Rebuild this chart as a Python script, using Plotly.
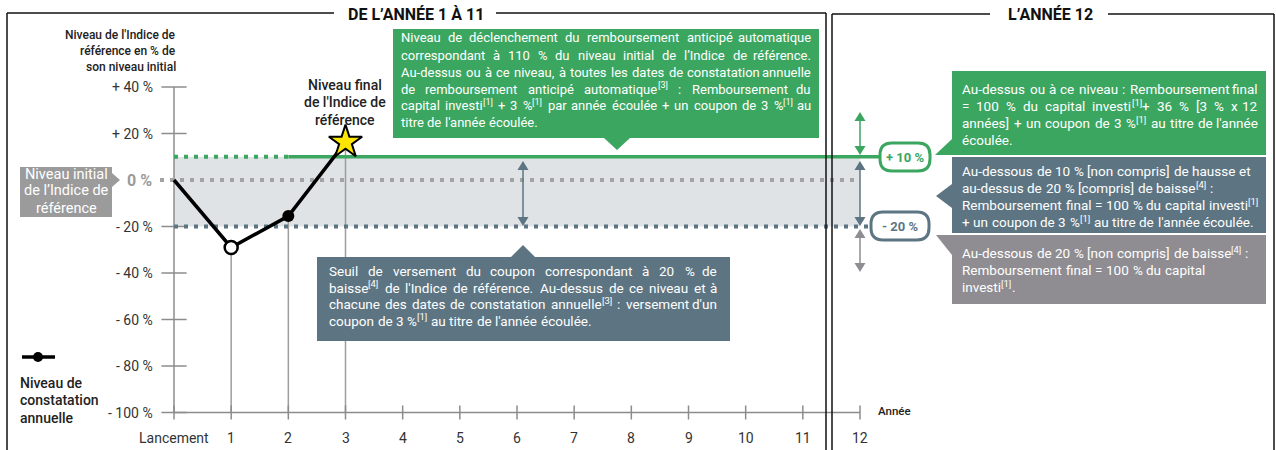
import re
import plotly.graph_objects as go

OFF = 0                      # body margin removed via post_script
W, H = 1276, 450

# ---------------- data ----------------
years = [0, 1, 2, 3]
levels = [0, -29, -15.5, 16.3]
x_tick_vals = list(range(13))
x_tick_text = ["Lancement", "1", "2", "3", "4", "5", "6", "7", "8", "9", "10", "11", "12"]
y_tick_vals = [40, 20, 0, -20, -40, -60, -80, -100]
y_tick_text = ["+ 40 %", "+ 20 %", "0 %", "- 20 %", "- 40 %", "- 60 %", "- 80 %", "- 100 %"]
autocall_level = 10
initial_level = 0
coupon_level = -20
last_year = 12

# ---------------- styling ----------------
GREEN = "#3ba65f"
SLATE = "#5d7582"
GREYBOX = "#8f8d91"
INITBOX = "#9b9b9b"
BAND = "#dfe3e6"
AXIS = "#8c8c8c"
TXT = "#222222"
FONT = "Roboto"

# axis pixel geometry (screen pixels of the reference)
X0PX, XSTEP = 174, 57.1667
Y0PX, YSTEP = 180, 2.325
xr = [(OFF - X0PX) / XSTEP, (OFF + W - X0PX) / XSTEP]
yr = [(Y0PX - (OFF + H)) / YSTEP, (Y0PX - OFF) / YSTEP]


def dx(px):
    return (px - X0PX) / XSTEP


def dy(py):
    return (Y0PX - py) / YSTEP


def fx(px):
    return (px - OFF) / W


def fy(py):
    return 1 - (py - OFF) / H


# approximate Roboto advance widths (units per 2048 em)
CW = {" ": 507, "a": 1087, "b": 1120, "c": 1044, "d": 1126, "e": 1058, "f": 693, "g": 1120,
      "h": 1100, "i": 486, "j": 478, "k": 1012, "l": 486, "m": 1751, "n": 1102, "o": 1139,
      "p": 1116, "q": 1131, "r": 677, "s": 1031, "t": 653, "u": 1100, "v": 967, "w": 1502,
      "x": 990, "y": 945, "z": 990, "A": 1336, "B": 1275, "C": 1333, "D": 1343, "E": 1164,
      "F": 1132, "I": 557, "L": 1103, "N": 1460, "R": 1260, "S": 1217, "T": 1221,
      "%": 1466, "+": 1135, "=": 1100, "-": 552, ".": 527, ",": 393, ":": 485, "'": 349,
      "’": 400, "[": 544, "]": 544, "(": 684, ")": 696, "é": 1058, "à": 1087}
CAL = 1.03
SUP = 0.7
SUPSHIFT = 0.28


def tw(text, size):
    return sum(CW.get(c, 1150 if c.isdigit() else 1100) for c in text) / 2048 * size * CAL


def segs(word):
    out = []
    for p in re.split(r"(<sup>.*?</sup>)", word):
        if not p:
            continue
        if p.startswith("<sup>"):
            out.append((p[5:-6], True))
        else:
            out.append((p, False))
    return out


def seg_w(seg, size):
    t, sup = seg
    return tw(t, size * SUP if sup else size)


fig = go.Figure()

ymin = y_tick_vals[-1]
ymax = y_tick_vals[0]

# vertical guide lines from observation points down to the axis
for xv, lv in zip(years[1:], levels[1:]):
    fig.add_trace(go.Scatter(x=[xv, xv], y=[lv, ymin], mode="lines",
                             line=dict(color="#9d9d9d", width=1.5), hoverinfo="skip"))

# y axis line & ticks
fig.add_trace(go.Scatter(x=[0, 0], y=[ymin, ymax], mode="lines",
                         line=dict(color=AXIS, width=1.5), hoverinfo="skip"))
fig.add_trace(go.Scatter(x=[0] * (len(y_tick_vals) - 1),
                         y=[v for v in y_tick_vals if v != 0], mode="markers",
                         marker=dict(symbol="line-ew", size=18,
                                     line=dict(color=AXIS, width=1.5)), hoverinfo="skip"))
# x axis line & ticks
fig.add_trace(go.Scatter(x=[0, last_year], y=[ymin, ymin], mode="lines",
                         line=dict(color=AXIS, width=1.5), hoverinfo="skip"))
fig.add_trace(go.Scatter(x=x_tick_vals, y=[ymin] * len(x_tick_vals), mode="markers",
                         marker=dict(symbol="line-ns", size=10,
                                     line=dict(color=AXIS, width=1.5)), hoverinfo="skip"))

# threshold lines
fig.add_trace(go.Scatter(x=[dx(160), last_year], y=[initial_level] * 2, mode="lines",
                         line=dict(color="#a3a3a3", width=4, dash="4px,6px"), hoverinfo="skip"))
fig.add_trace(go.Scatter(x=[0, dx(872)], y=[coupon_level] * 2, mode="lines",
                         line=dict(color=SLATE, width=4, dash="4px,6px"), hoverinfo="skip"))
fig.add_trace(go.Scatter(x=[0, years[2]], y=[autocall_level] * 2, mode="lines",
                         line=dict(color=GREEN, width=4, dash="4px,6px"), hoverinfo="skip"))
fig.add_trace(go.Scatter(x=[years[2], dx(882)], y=[autocall_level] * 2, mode="lines",
                         line=dict(color=GREEN, width=3.5), hoverinfo="skip"))

# index path
fig.add_trace(go.Scatter(x=years, y=levels, mode="lines",
                         line=dict(color="black", width=3.5), hoverinfo="skip"))
fig.add_trace(go.Scatter(x=[years[1]], y=[levels[1]], mode="markers",
                         marker=dict(size=13, color="white", line=dict(color="black", width=2.5)),
                         hoverinfo="skip"))
fig.add_trace(go.Scatter(x=[years[2]], y=[levels[2]], mode="markers",
                         marker=dict(size=12, color="black"), hoverinfo="skip"))
fig.add_trace(go.Scatter(x=[years[3]], y=[levels[3]], mode="markers",
                         marker=dict(symbol="star", size=25, color="#ffe600",
                                     line=dict(color="black", width=2)), hoverinfo="skip"))

shapes = []
annotations = []

# shaded band between thresholds
shapes.append(dict(type="rect", xref="x", yref="y", x0=0, x1=last_year,
                   y0=coupon_level, y1=autocall_level, fillcolor=BAND,
                   line=dict(width=0), layer="below"))


def line_px(x0, y0, x1, y1, color="#111111", width=1.5):
    shapes.append(dict(type="line", xref="paper", yref="paper",
                       x0=fx(x0), y0=fy(y0), x1=fx(x1), y1=fy(y1),
                       line=dict(color=color, width=width)))


def rect_px(x0, y0, x1, y1, color):
    shapes.append(dict(type="rect", xref="paper", yref="paper",
                       x0=fx(x0), y0=fy(y0), x1=fx(x1), y1=fy(y1),
                       fillcolor=color, line=dict(width=0)))


def poly_px(pts, color):
    p = "M " + " L ".join(f"{fx(a):.5f},{fy(b):.5f}" for a, b in pts) + " Z"
    shapes.append(dict(type="path", xref="paper", yref="paper", path=p,
                       fillcolor=color, line=dict(width=0)))


def pill_px(x0, y0, x1, y1, color, r=12):
    def P(a, b):
        return f"{fx(a):.5f},{fy(b):.5f}"
    p = (f"M {P(x0 + r, y0)} L {P(x1 - r, y0)} Q {P(x1, y0)} {P(x1, y0 + r)} "
         f"L {P(x1, y1 - r)} Q {P(x1, y1)} {P(x1 - r, y1)} L {P(x0 + r, y1)} "
         f"Q {P(x0, y1)} {P(x0, y1 - r)} L {P(x0, y0 + r)} Q {P(x0, y0)} {P(x0 + r, y0)} Z")
    shapes.append(dict(type="path", xref="paper", yref="paper", path=p,
                       fillcolor="white", line=dict(color=color, width=3)))


def darrow_px(x, y0, y1, color):
    line_px(x, y0 + 2, x, y1 - 2, color, 1.5)
    poly_px([(x, y0), (x - 5.5, y0 + 9), (x + 5.5, y0 + 9)], color)
    poly_px([(x, y1), (x - 5.5, y1 - 9), (x + 5.5, y1 - 9)], color)


def text_px(x, y, text, size=13, color=TXT, xanchor="left", yanchor="top",
            align="left", weight="normal"):
    annotations.append(dict(xref="paper", yref="paper", x=fx(x), y=fy(y), text=text,
                            showarrow=False, xanchor=xanchor, yanchor=yanchor, align=align,
                            borderpad=0,
                            font=dict(family=FONT, size=size, color=color, weight=weight)))


def place_word(word_segs, x, y, size, color, right_anchor=False):
    if right_anchor and len(word_segs) == 1 and not word_segs[0][1]:
        text_px(x, y, word_segs[0][0], size, color, xanchor="right", yanchor="middle")
        return
    if right_anchor:
        x -= sum(seg_w(s, size) for s in word_segs)
    cur = x
    for t, sup in word_segs:
        if sup:
            text_px(cur, y - SUPSHIFT * size, t, size * SUP, color, xanchor="left",
                    yanchor="middle")
        else:
            text_px(cur, y, t, size, color, xanchor="left", yanchor="middle")
        cur += seg_w((t, sup), size)


def paragraph(lines, x0, x1, ys, size, color="white", justify=True):
    n = len(lines)
    sp = tw(" ", size)
    for i, (ln, y) in enumerate(zip(lines, ys)):
        words = [segs(w) for w in ln.split(" ")]
        ws = [sum(seg_w(s, size) for s in w) for w in words]
        do_j = justify and i < n - 1 and len(words) > 1
        gap = (x1 - x0 - sum(ws)) / (len(words) - 1) if do_j else sp
        cur = x0
        for j, (w, wd) in enumerate(zip(words, ws)):
            last = j == len(words) - 1
            if do_j and last:
                place_word(w, x1, y, size, color, right_anchor=True)
            else:
                place_word(w, cur, y, size, color)
            cur += wd + gap


# panel frames
line_px(7, 13, 334, 13)
line_px(496, 13, 826, 13)
line_px(7, 13, 7, 452)
line_px(826, 13, 826, 452)
line_px(832, 14, 990, 14)
line_px(1108, 14, 1274, 14)
line_px(832, 14, 832, 452)
line_px(1274, 14, 1274, 452)
text_px(416, 15, "DE L’ANNÉE 1 À 11", size=16, color="#111111", xanchor="center",
        yanchor="middle", weight="bold")
text_px(1050, 15, "L’ANNÉE 12", size=16, color="#111111", xanchor="center",
        yanchor="middle", weight="bold")

# arrows
darrow_px(523, 161, 226, SLATE)
darrow_px(860, 112, 155, GREEN)
darrow_px(860, 161, 226, SLATE)
darrow_px(860, 229, 272, GREYBOX)

# pills
pill_px(880, 143, 930, 171, GREEN)
text_px(905, 157, "+ 10 %", size=13, color=GREEN, xanchor="center", yanchor="middle",
        weight="bold")
pill_px(871, 212, 929, 240, SLATE)
text_px(900, 226, "- 20 %", size=13, color=SLATE, xanchor="center", yanchor="middle",
        weight="bold")

# left green box
rect_px(393, 29, 819, 138, GREEN)
poly_px([(604, 138), (630, 138), (617, 150)], GREEN)
paragraph([
    "Niveau de déclenchement du remboursement anticipé automatique",
    "correspondant à 110 % du niveau initial de l’Indice de référence.",
    "Au-dessus ou à ce niveau, à toutes les dates de constatation annuelle",
    "de remboursement anticipé automatique<sup>[3]</sup> : Remboursement du",
    "capital investi<sup>[1]</sup> + 3 %<sup>[1]</sup> par année écoulée + un coupon de 3 %<sup>[1]</sup> au",
    "titre de l'année écoulée."],
    400, 812, [38, 55, 72, 89, 106, 123], 13)

# slate coupon box
rect_px(317, 257, 730, 341, SLATE)
poly_px([(511, 257), (535, 257), (523, 245)], SLATE)
paragraph([
    "Seuil de versement du coupon correspondant à 20 % de",
    "baisse<sup>[4]</sup> de l'Indice de référence. Au-dessus de ce niveau et à",
    "chacune des dates de constatation annuelle<sup>[3]</sup> : versement d'un",
    "coupon de 3 %<sup>[1]</sup> au titre de l'année écoulée."],
    328, 718, [271, 287.5, 304, 320.5], 13.5)

# right boxes
rect_px(952, 71, 1266, 155, GREEN)
poly_px([(935, 155), (952, 139), (952, 155)], GREEN)
paragraph([
    "Au-dessus ou à ce niveau : Remboursement final",
    "= 100 % du capital investi<sup>[1]</sup>+ 36 % [3 % x 12",
    "années] + un coupon de 3 %<sup>[1]</sup> au titre de l'année",
    "écoulée."],
    961, 1259, [89, 106, 123, 140], 13.5)

rect_px(952, 157, 1266, 233, SLATE)
poly_px([(952, 184), (936, 196), (952, 208)], SLATE)
paragraph([
    "Au-dessous de 10 % [non compris] de hausse et",
    "au-dessus de 20 % [compris] de baisse<sup>[4]</sup> :",
    "Remboursement final = 100 % du capital investi<sup>[1]</sup>",
    "+ un coupon de 3 %<sup>[1]</sup> au titre de l'année écoulée."],
    961, 1259, [171, 188, 205, 222], 13.5, justify=False)

rect_px(952, 235, 1266, 304, GREYBOX)
poly_px([(936, 235), (952, 235), (952, 255)], GREYBOX)
paragraph([
    "Au-dessous de 20 % [non compris] de baisse<sup>[4]</sup> :",
    "Remboursement final = 100 % du capital",
    "investi<sup>[1]</sup>."],
    961, 1259, [253, 270, 287], 13.5, justify=False)

# initial level box
rect_px(20, 167, 112, 217, INITBOX)
poly_px([(112, 173), (120, 180), (112, 187)], INITBOX)
for ln, y in zip(["Niveau initial", "de l’Indice de", "référence"], [174, 191, 208]):
    text_px(66, y, ln, size=14.5, color="white", xanchor="center", yanchor="middle")

# axis title & other labels
for ln, y in zip(["Niveau de l'Indice de", "référence en % de", "son niveau initial"],
                 [35, 51, 67]):
    text_px(177, y, ln, size=12, xanchor="right", yanchor="middle", weight=500)
for ln, y in zip(["Niveau final", "de l'Indice de", "référence"], [85, 102, 120]):
    text_px(345, y, ln, size=14, xanchor="center", yanchor="middle", weight=500)
text_px(877, 411, "Année", size=11.5, xanchor="left", yanchor="middle", weight=500)

# legend
line_px(22, 357, 55, 357, "black", 3.5)
shapes.append(dict(type="circle", xref="paper", yref="paper",
                   x0=fx(33), x1=fx(43), y0=fy(352), y1=fy(362),
                   fillcolor="black", line=dict(width=0)))
for ln, y in zip(["Niveau de", "constatation", "annuelle"], [383, 400, 418]):
    text_px(19, y, ln, size=14, xanchor="left", yanchor="middle", weight=500)

# tick labels (data-driven)
for v, t in zip(y_tick_vals, y_tick_text):
    if v == 0:
        annotations.append(dict(xref="x", yref="y", x=dx(154), y=v, text=t, showarrow=False,
                                xanchor="right", yanchor="middle",
                                font=dict(family=FONT, size=16, color="#9a9a9a", weight="bold")))
    else:
        annotations.append(dict(xref="x", yref="y", x=dx(155), y=v, text=t, showarrow=False,
                                xanchor="right", yanchor="middle",
                                font=dict(family=FONT, size=14, color="#333333")))
for v, t in zip(x_tick_vals, x_tick_text):
    annotations.append(dict(xref="x", yref="y", x=v, y=dy(438), text=t, showarrow=False,
                            xanchor="center", yanchor="middle",
                            font=dict(family=FONT, size=14, color="#333333")))

fig.update_layout(
    width=W, height=H, autosize=False,
    margin=dict(l=0, r=0, t=0, b=0),
    paper_bgcolor="white", plot_bgcolor="white",
    showlegend=False,
    xaxis=dict(range=xr, visible=False, fixedrange=True),
    yaxis=dict(range=yr, visible=False, fixedrange=True),
    shapes=shapes, annotations=annotations,
    font=dict(family=FONT),
)

fig.write_html("out.html", config={"displayModeBar": False, "staticPlot": True},
               post_script="document.body.style.margin='0';document.body.style.overflow='hidden';")
